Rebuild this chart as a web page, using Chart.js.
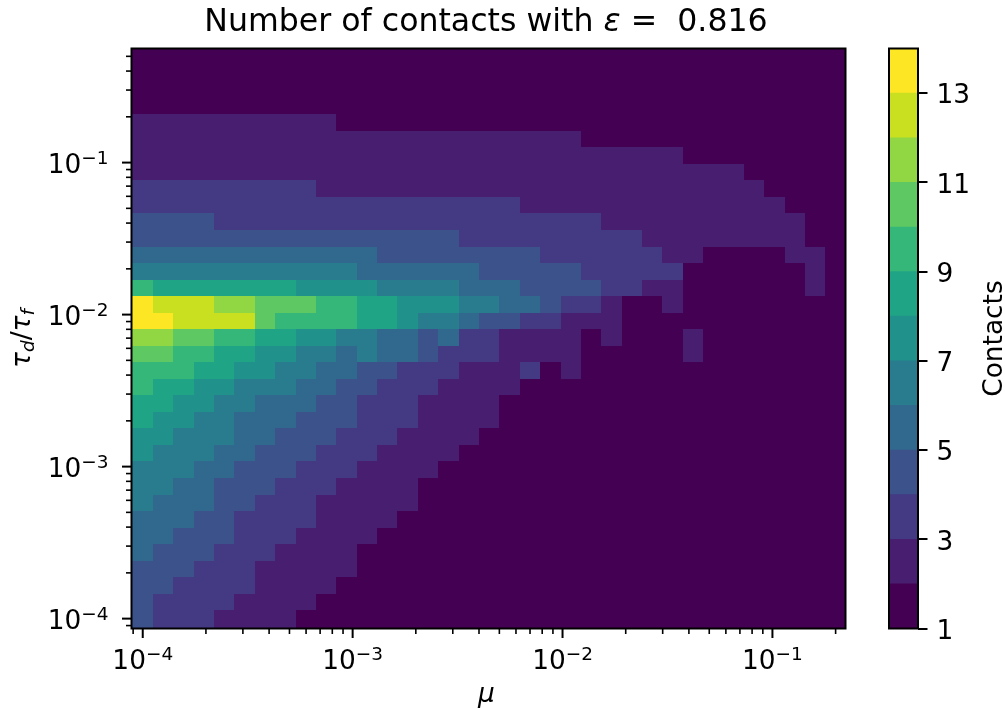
<!DOCTYPE html>
<html>
<head>
<meta charset="utf-8">
<title>Number of contacts</title>
<script src="https://cdn.jsdelivr.net/npm/chart.js@4"></script>
<style>
  html, body { margin: 0; padding: 0; background: #fff; }
  #wrap { position: relative; width: 1005px; height: 708px; overflow: hidden; }
  #wrap canvas { position: absolute; top: 0; }
  #heat { left: 0; }
  #bar { left: 860px; }
</style>
</head>
<body>
<div id="wrap">
  <canvas id="heat" width="1005" height="708"></canvas>
  <canvas id="bar" width="145" height="708"></canvas>
</div>
<script>
const muValues = [
  1.000e-4, 1.251e-4, 1.564e-4, 1.956e-4, 2.446e-4, 3.058e-4, 3.824e-4, 4.782e-4, 5.981e-4,
  7.479e-4, 9.352e-4, 1.170e-3, 1.463e-3, 1.829e-3, 2.287e-3, 2.860e-3, 3.577e-3, 4.472e-3,
  5.593e-3, 6.994e-3, 8.746e-3, 1.094e-2, 1.368e-2, 1.710e-2, 2.139e-2, 2.675e-2, 3.345e-2,
  4.183e-2, 5.231e-2, 6.541e-2, 8.180e-2, 1.023e-1, 1.279e-1, 1.600e-1, 2.000e-1
];
// lowest tau first, the rows below go from the top of the plot down
const tauValues = [
  1.000e-4, 1.285e-4, 1.650e-4, 2.120e-4, 2.724e-4, 3.499e-4, 4.496e-4, 5.775e-4, 7.420e-4,
  9.532e-4, 1.225e-3, 1.573e-3, 2.021e-3, 2.597e-3, 3.336e-3, 4.286e-3, 5.506e-3, 7.071e-3,
  9.085e-3, 1.167e-2, 1.499e-2, 1.926e-2, 2.474e-2, 3.179e-2, 4.084e-2, 5.247e-2, 6.741e-2,
  8.660e-2, 1.113e-1, 1.429e-1, 1.836e-1, 2.359e-1, 3.031e-1, 3.892e-1, 5.000e-1
];
const contacts = [
  [1,1,1,1,1,1,1,1,1,1,1,1,1,1,1,1,1,1,1,1,1,1,1,1,1,1,1,1,1,1,1,1,1,1,1],
  [1,1,1,1,1,1,1,1,1,1,1,1,1,1,1,1,1,1,1,1,1,1,1,1,1,1,1,1,1,1,1,1,1,1,1],
  [1,1,1,1,1,1,1,1,1,1,1,1,1,1,1,1,1,1,1,1,1,1,1,1,1,1,1,1,1,1,1,1,1,1,1],
  [1,1,1,1,1,1,1,1,1,1,1,1,1,1,1,1,1,1,1,1,1,1,1,1,1,1,1,1,1,1,1,1,1,1,1],
  [2,2,2,2,2,2,2,2,2,2,1,1,1,1,1,1,1,1,1,1,1,1,1,1,1,1,1,1,1,1,1,1,1,1,1],
  [2,2,2,2,2,2,2,2,2,2,2,2,2,2,2,2,2,2,2,2,2,2,1,1,1,1,1,1,1,1,1,1,1,1,1],
  [2,2,2,2,2,2,2,2,2,2,2,2,2,2,2,2,2,2,2,2,2,2,2,2,2,2,2,1,1,1,1,1,1,1,1],
  [2,2,2,2,2,2,2,2,2,2,2,2,2,2,2,2,2,2,2,2,2,2,2,2,2,2,2,2,2,2,1,1,1,1,1],
  [3,3,3,3,3,3,3,3,3,2,2,2,2,2,2,2,2,2,2,2,2,2,2,2,2,2,2,2,2,2,2,1,1,1,1],
  [3,3,3,3,3,3,3,3,3,3,3,3,3,3,3,3,3,3,3,2,2,2,2,2,2,2,2,2,2,2,2,2,1,1,1],
  [4,4,4,4,3,3,3,3,3,3,3,3,3,3,3,3,3,3,3,3,3,3,3,2,2,2,2,2,2,2,2,2,2,1,1],
  [4,4,4,4,4,4,4,4,4,4,4,4,4,4,4,4,3,3,3,3,3,3,3,3,3,2,2,2,2,2,2,2,2,1,1],
  [5,5,5,5,5,5,5,5,5,5,5,5,4,4,4,4,4,4,4,4,3,3,3,3,3,3,2,2,1,1,1,1,2,2,1],
  [6,6,6,6,6,6,6,6,6,6,6,5,5,5,5,5,5,4,4,4,4,4,3,3,3,3,3,1,1,1,1,1,1,2,1],
  [9,8,8,8,8,8,8,8,7,7,7,7,6,6,6,6,5,5,5,4,4,4,4,3,3,2,2,1,1,1,1,1,1,2,1],
  [13,12,12,12,11,11,10,10,10,9,9,8,8,7,7,7,6,6,5,5,4,3,3,2,1,1,2,1,1,1,1,1,1,1,1],
  [13,13,12,12,12,12,10,9,9,9,9,8,8,7,6,6,5,4,4,3,3,2,2,2,1,1,1,1,1,1,1,1,1,1,1],
  [11,11,10,10,9,9,8,8,7,7,6,6,5,5,4,5,3,3,2,2,2,2,1,2,1,1,1,2,1,1,1,1,1,1,1],
  [10,10,9,9,8,8,7,7,6,6,5,6,5,5,4,3,3,3,2,2,2,2,1,1,1,1,1,2,1,1,1,1,1,1,1],
  [9,9,9,8,8,7,7,6,6,5,5,4,4,3,3,3,2,2,2,3,1,2,1,1,1,1,1,1,1,1,1,1,1,1,1],
  [9,8,8,7,7,6,6,6,5,5,4,4,3,3,3,2,2,2,2,1,1,1,1,1,1,1,1,1,1,1,1,1,1,1,1],
  [8,8,7,7,6,6,5,5,5,4,4,3,3,3,2,2,2,2,1,1,1,1,1,1,1,1,1,1,1,1,1,1,1,1,1],
  [8,7,7,6,6,5,5,5,4,4,4,3,3,3,2,2,2,2,1,1,1,1,1,1,1,1,1,1,1,1,1,1,1,1,1],
  [7,7,6,6,6,5,5,4,4,4,3,3,3,2,2,2,2,1,1,1,1,1,1,1,1,1,1,1,1,1,1,1,1,1,1],
  [7,6,6,6,5,5,4,4,4,3,3,3,2,2,2,2,1,1,1,1,1,1,1,1,1,1,1,1,1,1,1,1,1,1,1],
  [6,6,6,5,5,4,4,4,3,3,3,2,2,2,2,1,1,1,1,1,1,1,1,1,1,1,1,1,1,1,1,1,1,1,1],
  [6,6,5,5,4,4,4,3,3,3,2,2,2,2,1,1,1,1,1,1,1,1,1,1,1,1,1,1,1,1,1,1,1,1,1],
  [6,5,5,5,4,4,3,3,3,2,2,2,2,2,1,1,1,1,1,1,1,1,1,1,1,1,1,1,1,1,1,1,1,1,1],
  [5,5,5,4,4,3,3,3,3,2,2,2,2,1,1,1,1,1,1,1,1,1,1,1,1,1,1,1,1,1,1,1,1,1,1],
  [5,5,4,4,4,3,3,3,2,2,2,2,1,1,1,1,1,1,1,1,1,1,1,1,1,1,1,1,1,1,1,1,1,1,1],
  [5,4,4,4,3,3,3,2,2,2,2,1,1,1,1,1,1,1,1,1,1,1,1,1,1,1,1,1,1,1,1,1,1,1,1],
  [4,4,4,3,3,3,2,2,2,2,2,1,1,1,1,1,1,1,1,1,1,1,1,1,1,1,1,1,1,1,1,1,1,1,1],
  [4,4,3,3,3,3,2,2,2,2,1,1,1,1,1,1,1,1,1,1,1,1,1,1,1,1,1,1,1,1,1,1,1,1,1],
  [4,3,3,3,3,2,2,2,2,1,1,1,1,1,1,1,1,1,1,1,1,1,1,1,1,1,1,1,1,1,1,1,1,1,1],
  [4,3,3,3,2,2,2,2,1,1,1,1,1,1,1,1,1,1,1,1,1,1,1,1,1,1,1,1,1,1,1,1,1,1,1]
];
const contactLevels = [1,2,3,4,5,6,7,8,9,10,11,12,13];
const levelColors = ['#440154','#481f70','#443983','#3b528b','#31688e','#287c8e','#21918c','#20a486','#35b779','#5ec962','#90d743','#c8e020','#fde725'];
const colorbarTicks = [1,3,5,7,9,11,13];
const muDecades = [-4,-3,-2,-1];
const tauDecades = [-4,-3,-2,-1];

const FONT = '"DejaVu Sans"';
const BASE = 26.4;

// text with mixed fonts, centred or right aligned on x, like matplotlib mathtext
function drawRuns(ctx, runs, x, y, align) {
    let total = 0;
    runs.forEach(r => { ctx.font = r.font; total += ctx.measureText(r.t).width; });
    let cx = align === 'right' ? x - total : x - total / 2;
    ctx.textAlign = 'left';
    ctx.textBaseline = 'alphabetic';
    ctx.fillStyle = '#000';
    runs.forEach(r => {
        ctx.font = r.font;
        ctx.fillText(r.t, cx, y + (r.dy || 0));
        cx += ctx.measureText(r.t).width;
    });
}

function powerRuns(exp) {
    return [
        { t: '10', font: BASE + 'px ' + FONT },
        { t: '\u2212' + Math.abs(exp), font: (BASE * 0.7) + 'px ' + FONT, dy: -9 }
    ];
}

// cell edges halfway (in log space) between the mesh values
function logEdges(values, lo, hi) {
    const edges = [lo];
    for (let i = 0; i < values.length - 1; i++) edges.push(Math.sqrt(values[i] * values[i + 1]));
    edges.push(hi);
    return edges;
}

const X_MIN = 8.84e-5, X_MAX = 0.2229, Y_MIN = 8.61e-5, Y_MAX = 0.563;
const muEdges = logEdges(muValues, X_MIN, X_MAX);
const tauEdges = logEdges(tauValues, Y_MIN, Y_MAX);

const cells = [];
contacts.forEach((row, r) => {
    const t = contacts.length - 1 - r;
    row.forEach((v, c) => cells.push({ x: muValues[c], y: tauValues[t], v: v, c: c, t: t }));
});

const heatCells = {
    id: 'heatCells',
    beforeDatasetsDraw(chart) {
        const { ctx, scales: { x, y } } = chart;
        ctx.save();
        chart.data.datasets[0].data.forEach(p => {
            const x0 = Math.round(x.getPixelForValue(muEdges[p.c]));
            const x1 = Math.round(x.getPixelForValue(muEdges[p.c + 1]));
            const y0 = Math.round(y.getPixelForValue(tauEdges[p.t + 1]));
            const y1 = Math.round(y.getPixelForValue(tauEdges[p.t]));
            ctx.fillStyle = levelColors[contactLevels.indexOf(p.v)];
            ctx.fillRect(x0, y0, x1 - x0, y1 - y0);
        });
        ctx.restore();
    }
};

const axisDecor = {
    id: 'axisDecor',
    afterDraw(chart) {
        const { ctx, chartArea: a, scales: { x, y } } = chart;
        ctx.save();
        ctx.strokeStyle = '#000';
        ctx.lineWidth = 2;
        ctx.strokeRect(a.left, a.top, a.right - a.left, a.bottom - a.top);

        // major and minor log ticks
        for (let e = -5; e <= 0; e++) {
            for (let m = 1; m <= 9; m++) {
                const v = m * Math.pow(10, e);
                const len = m === 1 ? 9.5 : 5.5;
                ctx.lineWidth = m === 1 ? 2 : 1.6;
                if (v >= X_MIN && v <= X_MAX) {
                    const px = x.getPixelForValue(v);
                    ctx.beginPath(); ctx.moveTo(px, a.bottom); ctx.lineTo(px, a.bottom + len); ctx.stroke();
                }
                if (v >= Y_MIN && v <= Y_MAX) {
                    const py = y.getPixelForValue(v);
                    ctx.beginPath(); ctx.moveTo(a.left, py); ctx.lineTo(a.left - len, py); ctx.stroke();
                }
            }
        }
        muDecades.forEach(e => drawRuns(ctx, powerRuns(e), x.getPixelForValue(Math.pow(10, e)), 669, 'center'));
        tauDecades.forEach(e => drawRuns(ctx, powerRuns(e), 108.5, y.getPixelForValue(Math.pow(10, e)) + 10, 'right'));

        // title and axis labels
        const reg = BASE + 'px ' + FONT, ita = 'italic ' + BASE + 'px ' + FONT;
        const tReg = '31.6px ' + FONT, tIta = 'italic 31.6px ' + FONT;
        drawRuns(ctx, [
            { t: 'Number of contacts with ', font: tReg },
            { t: '\u03b5', font: tIta },
            { t: ' = ', font: tReg },
            { t: ' 0.816', font: tReg }
        ], (a.left + a.right) / 2 - 2.5, 31, 'center');
        drawRuns(ctx, [{ t: '\u03bc', font: ita }], (a.left + a.right) / 2 - 2, 702, 'center');

        const sub = 'italic ' + (BASE * 0.7) + 'px ' + FONT;
        ctx.translate(30, (a.top + a.bottom) / 2);
        ctx.rotate(-Math.PI / 2);
        drawRuns(ctx, [
            { t: '\u03c4', font: ita }, { t: 'd', font: sub, dy: 4 },
            { t: '/', font: reg },
            { t: '\u03c4', font: ita }, { t: 'f', font: sub, dy: 4 }
        ], 0, 0, 'center');
        ctx.restore();
    }
};

new Chart(document.getElementById('heat').getContext('2d'), {
    type: 'scatter',
    data: { datasets: [{ label: 'Contacts', data: cells, pointRadius: 0, pointHoverRadius: 0 }] },
    options: {
        responsive: false,
        animation: false,
        events: [],
        layout: { padding: { top: 48.5, right: 159.5, left: 0, bottom: 0 } },
        plugins: { legend: { display: false }, tooltip: { enabled: false } },
        scales: {
            x: {
                type: 'logarithmic', bounds: 'data', min: X_MIN, max: X_MAX,
                grid: { display: false }, border: { display: false }, ticks: { display: false },
                afterFit(scale) { scale.height = 79.5; }
            },
            y: {
                type: 'logarithmic', bounds: 'data', min: Y_MIN, max: Y_MAX,
                grid: { display: false }, border: { display: false }, ticks: { display: false },
                afterFit(scale) { scale.width = 131.5; }
            }
        }
    },
    plugins: [heatCells, axisDecor]
});

const barDecor = {
    id: 'barDecor',
    afterDraw(chart) {
        const { ctx, chartArea: a } = chart;
        ctx.save();
        ctx.strokeStyle = '#000';
        ctx.lineWidth = 2;
        ctx.strokeRect(a.left, a.top, a.right - a.left, a.bottom - a.top);
        ctx.translate(142, (a.top + a.bottom) / 2);
        ctx.rotate(-Math.PI / 2);
        drawRuns(ctx, [{ t: 'Contacts', font: BASE + 'px ' + FONT }], 0, 0, 'center');
        ctx.restore();
    }
};

new Chart(document.getElementById('bar').getContext('2d'), {
    type: 'bar',
    data: {
        labels: ['Contacts'],
        datasets: contactLevels.map((v, i) => ({
            label: String(v),
            data: [[v, v + 1]],
            backgroundColor: levelColors[i],
            grouped: false,
            barPercentage: 1,
            categoryPercentage: 1
        }))
    },
    options: {
        responsive: false,
        animation: false,
        events: [],
        layout: { padding: { top: 48.5, left: 29, right: 0, bottom: 79.5 } },
        plugins: { legend: { display: false }, tooltip: { enabled: false } },
        scales: {
            x: { display: false },
            y: {
                position: 'right',
                min: 1,
                max: 14,
                afterBuildTicks(scale) { scale.ticks = colorbarTicks.map(v => ({ value: v })); },
                grid: { drawOnChartArea: false, color: '#000', tickLength: 9.5, lineWidth: 2 },
                border: { display: false },
                ticks: { color: '#000', padding: 9, labelOffset: 3.5, autoSkip: false, font: { family: FONT, size: BASE } },
                afterFit(scale) { scale.width = 87; }
            }
        }
    },
    plugins: [barDecor]
});
</script>
</body>
</html>
